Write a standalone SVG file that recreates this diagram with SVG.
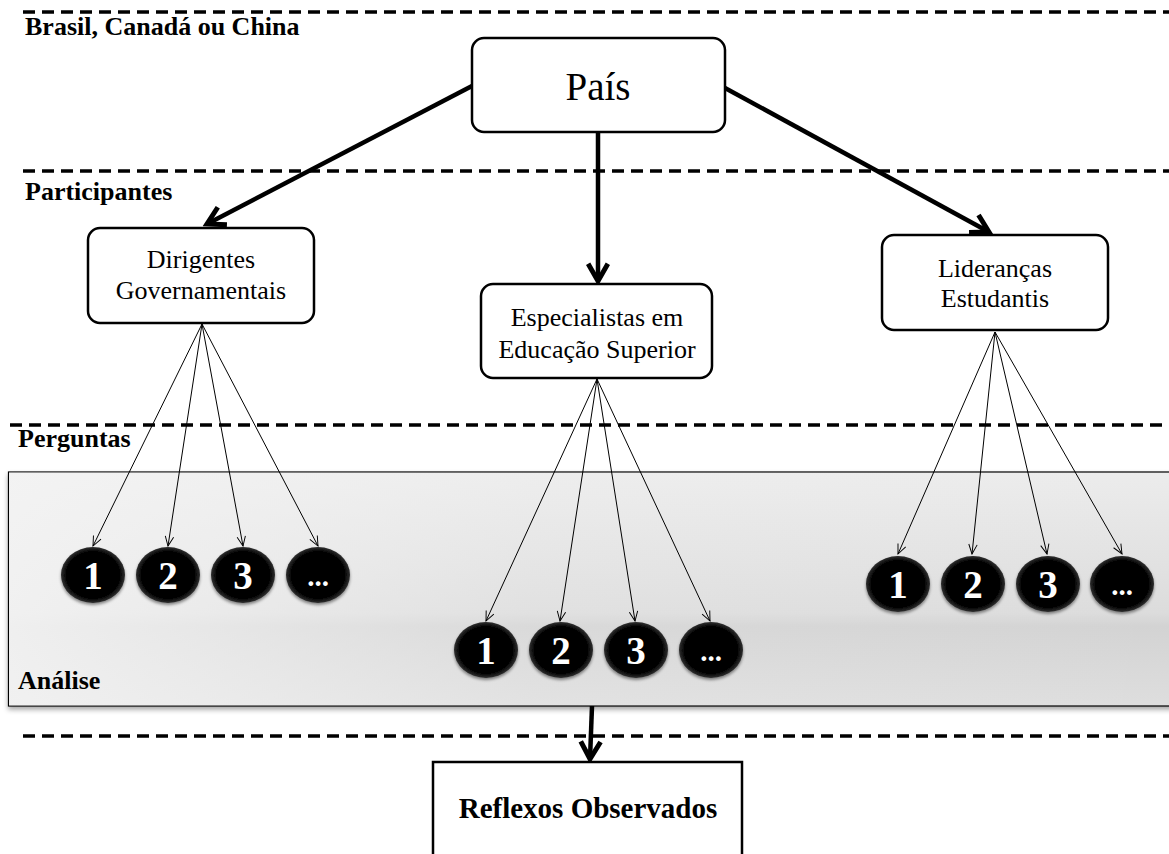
<svg xmlns="http://www.w3.org/2000/svg" width="1169" height="854" viewBox="0 0 1169 854">
  <style>
    .dash { stroke: #000; stroke-width: 3.5; stroke-dasharray: 12 7; fill: none; }
    .sec { font-family: "Liberation Serif", "Times New Roman", serif; font-weight: bold; font-size: 26px; fill: #000; }
    .box { fill: #fff; stroke: #000; stroke-width: 2.5; }
    .lbl { font-family: "Liberation Serif", "Times New Roman", serif; font-size: 26px; fill: #000; text-anchor: middle; }
    .num { font-family: "Liberation Serif", "Times New Roman", serif; font-weight: bold; font-size: 39px; fill: #fff; text-anchor: middle; }
    .dots { font-family: "Liberation Serif", "Times New Roman", serif; font-weight: bold; font-size: 29px; fill: #fff; text-anchor: middle; }
    .thick { stroke: #000; stroke-width: 4.5; fill: none; marker-end: url(#headBig); }
    .thin { stroke: #000; stroke-width: 1; fill: none; marker-end: url(#headSmall); }
    .ball { fill: url(#ballGrad); filter: url(#ballShadow); }
  </style>
  <defs>
    <marker id="headBig" viewBox="0 0 20 20" refX="16" refY="10" markerWidth="5.5" markerHeight="5.5" orient="auto" markerUnits="strokeWidth">
      <path d="M2,2 L16,10 L2,18" fill="none" stroke="#000" stroke-width="4"/>
    </marker>
    <marker id="headSmall" viewBox="0 0 20 20" refX="18" refY="10" markerWidth="12" markerHeight="12" orient="auto" markerUnits="userSpaceOnUse">
      <path d="M2,3 L18,10 L2,17" fill="none" stroke="#000" stroke-width="1.6"/>
    </marker>
    <linearGradient id="panelV" x1="0" y1="0" x2="0" y2="1">
      <stop offset="0" stop-color="#ececec"/>
      <stop offset="0.6" stop-color="#dcdcdc"/>
      <stop offset="0.66" stop-color="#d3d3d3"/>
      <stop offset="1" stop-color="#dedede"/>
    </linearGradient>
    <linearGradient id="panelH" x1="0" y1="0" x2="1" y2="0">
      <stop offset="0" stop-color="#f4f4f4" stop-opacity="0.85"/>
      <stop offset="0.45" stop-color="#f4f4f4" stop-opacity="0.2"/>
      <stop offset="1" stop-color="#f4f4f4" stop-opacity="0"/>
    </linearGradient>
    <radialGradient id="ballGrad" cx="0.5" cy="0.5" r="0.52">
      <stop offset="0" stop-color="#000"/>
      <stop offset="0.82" stop-color="#060606"/>
      <stop offset="1" stop-color="#3c3c3c"/>
    </radialGradient>
    <filter id="ballShadow" x="-20%" y="-20%" width="140%" height="150%">
      <feDropShadow dx="0" dy="2" stdDeviation="1.5" flood-color="#000" flood-opacity="0.45"/>
    </filter>
    <filter id="panelShadow" x="-5%" y="-5%" width="110%" height="115%">
      <feDropShadow dx="0" dy="3" stdDeviation="2.5" flood-color="#000" flood-opacity="0.35"/>
    </filter>
  </defs>

  <rect width="1169" height="854" fill="#fff"/>

  <!-- analysis panel -->
  <g id="analise">
    <rect x="8.5" y="472" width="1170" height="234" fill="url(#panelV)" stroke="#000" stroke-width="1.2" filter="url(#panelShadow)"/>
    <rect x="9" y="472.6" width="1160" height="232.8" fill="url(#panelH)"/>
    <text class="sec" x="18" y="689">Análise</text>
  </g>

  <!-- section dividers -->
  <g id="divisores">
    <line class="dash" x1="23" y1="12" x2="1169" y2="12"/>
    <line class="dash" x1="23" y1="171" x2="1169" y2="171"/>
    <line class="dash" x1="10" y1="425" x2="1169" y2="425"/>
    <line class="dash" x1="23" y1="736" x2="1169" y2="736"/>
    <text class="sec" x="25" y="35">Brasil, Canadá ou China</text>
    <text class="sec" x="25" y="200">Participantes</text>
    <text class="sec" x="18" y="447">Perguntas</text>
  </g>

  <!-- connectors -->
  <g id="conectores">
    <line class="thick" x1="472" y1="86" x2="207" y2="224"/>
    <line class="thick" x1="598" y1="132" x2="598" y2="281"/>
    <line class="thick" x1="725" y1="88" x2="989" y2="232"/>
    <line class="thick" x1="592" y1="706" x2="590" y2="759"/>

    <line class="thin" x1="202" y1="324" x2="93" y2="546"/>
    <line class="thin" x1="202" y1="324" x2="168" y2="546"/>
    <line class="thin" x1="202" y1="324" x2="243" y2="546"/>
    <line class="thin" x1="202" y1="324" x2="318" y2="546"/>

    <line class="thin" x1="597" y1="379" x2="486" y2="621"/>
    <line class="thin" x1="597" y1="379" x2="560" y2="621"/>
    <line class="thin" x1="597" y1="379" x2="635" y2="621"/>
    <line class="thin" x1="597" y1="379" x2="710" y2="621"/>

    <line class="thin" x1="995" y1="332" x2="898" y2="554"/>
    <line class="thin" x1="995" y1="332" x2="972" y2="554"/>
    <line class="thin" x1="995" y1="332" x2="1047" y2="554"/>
    <line class="thin" x1="995" y1="332" x2="1122" y2="554"/>
  </g>

  <!-- nodes -->
  <g id="pais">
    <rect class="box" x="472" y="38" width="253" height="94" rx="12"/>
    <text class="lbl" x="598" y="100" style="font-size:39px">País</text>
  </g>

  <g id="dirigentes">
    <rect class="box" x="88" y="228" width="226" height="95" rx="12"/>
    <text class="lbl" x="201" y="268">Dirigentes</text>
    <text class="lbl" x="201" y="299">Governamentais</text>
  </g>

  <g id="especialistas">
    <rect class="box" x="481" y="284" width="231" height="94" rx="12"/>
    <text class="lbl" x="597" y="326">Especialistas em</text>
    <text class="lbl" x="597" y="358">Educação Superior</text>
  </g>

  <g id="liderancas">
    <rect class="box" x="882" y="235" width="226" height="95" rx="12"/>
    <text class="lbl" x="995" y="277">Lideranças</text>
    <text class="lbl" x="995" y="307">Estudantis</text>
  </g>

  <g id="perguntas-dirigentes">
    <ellipse class="ball" cx="93" cy="575" rx="32" ry="28"/>
    <text class="num" x="93" y="589">1</text>
    <ellipse class="ball" cx="168" cy="575" rx="32" ry="28"/>
    <text class="num" x="168" y="589">2</text>
    <ellipse class="ball" cx="243" cy="575" rx="32" ry="28"/>
    <text class="num" x="243" y="589">3</text>
    <ellipse class="ball" cx="318" cy="575" rx="32" ry="28"/>
    <text class="dots" x="318" y="586">...</text>
  </g>

  <g id="perguntas-especialistas">
    <ellipse class="ball" cx="486" cy="650" rx="32" ry="28"/>
    <text class="num" x="486" y="664">1</text>
    <ellipse class="ball" cx="561" cy="650" rx="32" ry="28"/>
    <text class="num" x="561" y="664">2</text>
    <ellipse class="ball" cx="636" cy="650" rx="32" ry="28"/>
    <text class="num" x="636" y="664">3</text>
    <ellipse class="ball" cx="711" cy="650" rx="32" ry="28"/>
    <text class="dots" x="711" y="661">...</text>
  </g>

  <g id="perguntas-liderancas">
    <ellipse class="ball" cx="898" cy="584" rx="32" ry="28"/>
    <text class="num" x="898" y="598">1</text>
    <ellipse class="ball" cx="973" cy="584" rx="32" ry="28"/>
    <text class="num" x="973" y="598">2</text>
    <ellipse class="ball" cx="1048" cy="584" rx="32" ry="28"/>
    <text class="num" x="1048" y="598">3</text>
    <ellipse class="ball" cx="1122" cy="584" rx="32" ry="28"/>
    <text class="dots" x="1122" y="595">...</text>
  </g>

  <g id="reflexos">
    <rect x="433" y="762" width="309" height="110" fill="#fff" stroke="#000" stroke-width="2.5"/>
    <text class="lbl" x="588" y="818" style="font-weight:bold;font-size:29px">Reflexos Observados</text>
  </g>
</svg>
